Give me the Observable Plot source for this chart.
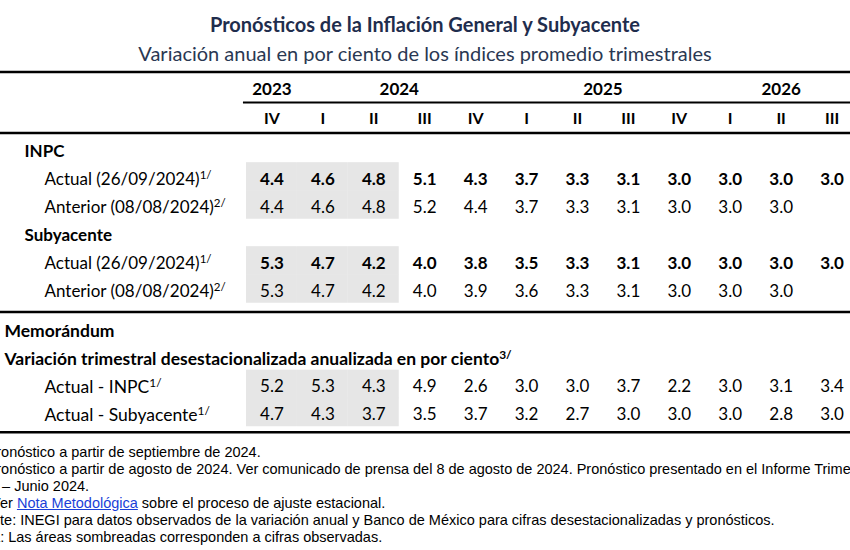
<!DOCTYPE html>
<html><head><meta charset="utf-8">
<script src="https://cdn.jsdelivr.net/npm/d3@7"></script>
<script src="https://cdn.jsdelivr.net/npm/@observablehq/plot@0.6"></script>
<style>
body{margin:0;background:#fff;width:850px;height:550px;overflow:hidden;}
#head{height:66px;position:relative;color:#1f2d4d;font-family:Lato,sans-serif;text-align:center;}
#title{position:absolute;left:0;right:0;top:11px;font-size:20px;font-weight:bold;line-height:26px;}
#subtitle{position:absolute;left:0;right:0;top:40px;font-size:20px;line-height:26px;color:#2a3852;}
#chart{height:376px;}
#notes{font-family:"Liberation Sans",Arial,sans-serif;font-size:14.5px;line-height:16.9px;margin-top:2px;overflow:hidden;width:850px;color:#000;}
#notes div{white-space:nowrap;}
#notes a{color:#1a3fd8;text-decoration:underline;}
</style></head><body>
<div id="head">
<div id="title">Pronósticos de la Inflación General y Subyacente</div>
<div id="subtitle">Variación anual en por ciento de los índices promedio trimestrales</div>
</div>
<div id="chart"></div>
<div id="notes">
<div style="margin-left:-29.5px">1/ Pronóstico a partir de septiembre de 2024.</div>
<div style="margin-left:-29.5px">2/ Pronóstico a partir de agosto de 2024. Ver comunicado de prensa del 8 de agosto de 2024. Pronóstico presentado en el Informe Trimestral</div>
<div style="margin-left:-31px">Abril – Junio 2024.</div>
<div style="margin-left:-25px">3/ Ver <a>Nota Metodológica</a> sobre el proceso de ajuste estacional.</div>
<div style="margin-left:-33px">Fuente: INEGI para datos observados de la variación anual y Banco de México para cifras desestacionalizadas y pronósticos.</div>
<div style="margin-left:-30.5px">Nota: Las áreas sombreadas corresponden a cifras observadas.</div>
</div>
<script>
// ---- data ----
const years = ["2023", "2024", "2025", "2026"];
const yearQuarterCount = [1, 4, 4, 3];
const quarters = ["IV", "I", "II", "III", "IV", "I", "II", "III", "IV", "I", "II", "III"];
const observed = [true, true, true, false, false, false, false, false, false, false, false, false];

const inpcActual   = [4.4, 4.6, 4.8, 5.1, 4.3, 3.7, 3.3, 3.1, 3.0, 3.0, 3.0, 3.0];
const inpcAnterior = [4.4, 4.6, 4.8, 5.2, 4.4, 3.7, 3.3, 3.1, 3.0, 3.0, 3.0, null];
const subActual    = [5.3, 4.7, 4.2, 4.0, 3.8, 3.5, 3.3, 3.1, 3.0, 3.0, 3.0, 3.0];
const subAnterior  = [5.3, 4.7, 4.2, 4.0, 3.9, 3.6, 3.3, 3.1, 3.0, 3.0, 3.0, null];
const memoInpc     = [5.2, 5.3, 4.3, 4.9, 2.6, 3.0, 3.0, 3.7, 2.2, 3.0, 3.1, 3.4];
const memoSub      = [4.7, 4.3, 3.7, 3.5, 3.7, 3.2, 2.7, 3.0, 3.0, 3.0, 2.8, 3.0];

const rowKeys = ["year", "quarter", "inpc", "inpcA", "inpcP", "sub", "subA", "subP", "memo", "var", "memoI", "memoS"];
const sectionRows = ["inpc", "sub"];
const sectionLabels = ["INPC", "Subyacente"];
const seriesRows = ["inpcA", "inpcP", "subA", "subP"];
const seriesLabels = ["Actual (26/09/2024)§1/", "Anterior (08/08/2024)§2/", "Actual (26/09/2024)§1/", "Anterior (08/08/2024)§2/"];
const memoHeadRows = ["memo", "var"];
const memoHeadLabels = ["Memorándum", "Variación trimestral desestacionalizada anualizada en por ciento§3/"];
const memoRows = ["memoI", "memoS"];
const memoLabels = ["Actual - INPC§1/", "Actual - Subyacente§1/"];

// ---- layout of rows (row units; extra space where a rule separates blocks) ----
const gapBefore = {inpc: 0.214, memo: 0.41};
const pos = {};
{ let p = 0; for (const k of rowKeys) { p += gapBefore[k] || 0; pos[k] = p; p += 1; } }

// ---- derived tables ----
const series = {inpcA: inpcActual, inpcP: inpcAnterior, subA: subActual, subP: subAnterior, memoI: memoInpc, memoS: memoSub};
const cells = [];
for (const [row, vals] of Object.entries(series)) vals.forEach((v, i) => { if (v != null) cells.push({row, i, v}); });
const shade = [];
for (const row of Object.keys(series)) observed.forEach((o, i) => { if (o) shade.push({row, i}); });
let start = 0;
const yearTable = years.map((y, k) => { const n = yearQuarterCount[k]; const d = {year: y, x: start + (n - 1) / 2}; start += n; return d; });
const quarterTable = quarters.map((q, i) => ({q, i}));
const boldRows = new Set(["inpcA", "subA"]);
const rules = [
  {y: pos.year - 0.625, full: true},
  {y: pos.year + 0.464, full: false},
  {y: pos.quarter + 0.554, full: true},
  {y: pos.subP + 0.736, full: true},
  {y: pos.memoS + 0.615, full: true}
];

const font = "Lato, 'Open Sans', sans-serif";
const txt = {fill: "#000", fontFamily: font, fontSize: 17};

const plot = Plot.plot({
  width: 850, height: 376, margin: 0,
  x: {type: "linear", domain: [-0.5, 11.5], range: [246, 857], axis: null},
  y: {type: "linear", domain: [0, 10], range: [23, 303], axis: null},
  marks: [
    Plot.rect(shade, {x1: d => d.i - 0.5, x2: d => d.i + 0.5, y1: d => pos[d.row] - 0.6, y2: d => pos[d.row] + 0.42, fill: "#e6e6e6"}),
    Plot.ruleY(rules.filter(r => r.full), {y: "y", stroke: "#000", strokeWidth: 2.5}),
    Plot.ruleY(rules.filter(r => !r.full), {y: "y", x1: -0.56, x2: 12, stroke: "#000", strokeWidth: 2}),
    Plot.text(yearTable, {...txt, x: "x", y: () => pos.year, text: "year", fontWeight: "bold"}),
    Plot.text(quarterTable, {...txt, x: "i", y: () => pos.quarter + 0.06, text: "q", fontWeight: "bold", fontSize: 16}),
    Plot.text(cells.filter(d => boldRows.has(d.row)), {...txt, x: "i", y: d => pos[d.row], text: d => d.v.toFixed(1), fontWeight: "bold"}),
    Plot.text(cells.filter(d => !boldRows.has(d.row)), {...txt, x: "i", y: d => pos[d.row], text: d => d.v.toFixed(1)}),
    Plot.text(sectionLabels, {...txt, frameAnchor: "left", y: (d, i) => pos[sectionRows[i]], text: d => d, dx: 24, textAnchor: "start", fontWeight: "bold"}),
    Plot.text(seriesLabels, {...txt, frameAnchor: "left", y: (d, i) => pos[seriesRows[i]], text: d => d, dx: 44, textAnchor: "start"}),
    Plot.text(memoHeadLabels, {...txt, frameAnchor: "left", y: (d, i) => pos[memoHeadRows[i]], text: d => d, dx: 4, textAnchor: "start", fontWeight: "bold", fontSize: 17.5}),
    Plot.text(memoLabels, {...txt, frameAnchor: "left", y: (d, i) => pos[memoRows[i]], text: d => d, dx: 44, textAnchor: "start", fontSize: 17.5})
  ]
});
d3.select(plot).selectAll("text").each(function () {
  const s = this.textContent, k = s.indexOf("§");
  if (k >= 0) {
    this.textContent = s.slice(0, k);
    d3.select(this).append("tspan").attr("dy", "-0.5em").attr("font-size", "0.68em").text(s.slice(k + 1));
  }
});
document.getElementById("chart").appendChild(plot);
</script>
</body></html>
